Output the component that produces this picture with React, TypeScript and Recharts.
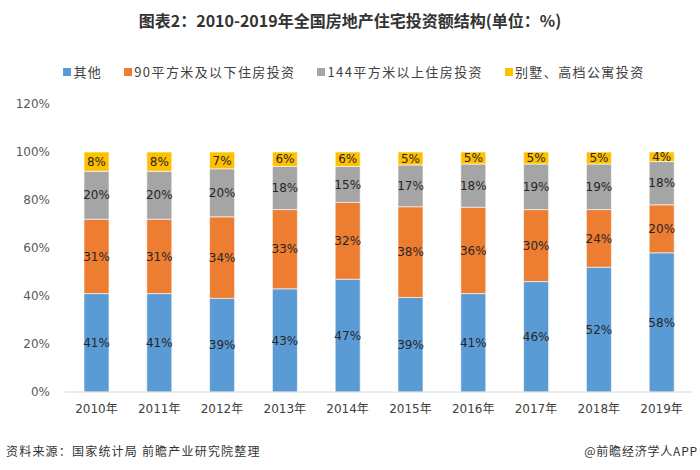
import { BarChart, Bar, XAxis, YAxis, LabelList } from 'recharts'

const years = ['2010年', '2011年', '2012年', '2013年', '2014年', '2015年', '2016年', '2017年', '2018年', '2019年']
const other = [41, 41, 39, 43, 47, 39.4, 41, 46, 52, 58]
const under90 = [31, 31, 34, 33, 32, 37.8, 36, 30, 24, 20]
const over144 = [20, 20, 20, 18, 15, 17.4, 18, 19, 19, 18]
const villa = [8, 8, 7, 6, 6, 5.4, 5, 5, 5, 4]
const yTicks = [0, 20, 40, 60, 80, 100, 120]

const SERIES = [
    { key: 'other', name: '其他', color: '#5B9BD5' },
    { key: 'under90', name: '90平方米及以下住房投资', color: '#ED7D31' },
    { key: 'over144', name: '144平方米以上住房投资', color: '#A5A5A5' },
    { key: 'villa', name: '别墅、高档公寓投资', color: '#FFC000' },
]

const data = years.map((year, i) => ({
    year,
    other: other[i],
    under90: under90[i],
    over144: over144[i],
    villa: villa[i],
}))

const FONT = '"DejaVu Sans", "Noto Sans CJK SC", sans-serif'
const CJK = '"Noto Sans CJK SC", sans-serif'

export default function App() {
    return (
        <div style={{ position: 'absolute', left: 0, top: 0, width: 700, height: 470, background: '#fff', fontFamily: CJK }}>
            <div style={{ position: 'absolute', top: 8, left: 0, width: 700, textAlign: 'center', fontSize: 16, fontWeight: 'bold', color: '#333' }}>
                图表2：2010-2019年全国房地产住宅投资额结构(单位：%)
            </div>
            <div style={{ position: 'absolute', top: 62, left: 4, width: 700, display: 'flex', justifyContent: 'center', gap: 22, fontSize: 13, letterSpacing: 1.4, color: '#404040' }}>
                {SERIES.map((s) => (
                    <div key={s.key} style={{ display: 'flex', alignItems: 'center' }}>
                        <span style={{ display: 'inline-block', width: 8, height: 8, background: s.color, marginRight: 2 }} />
                        {s.name}
                    </div>
                ))}
            </div>
            <div style={{ position: 'absolute', left: 0, top: 0 }}>
                <BarChart
                    width={700}
                    height={470}
                    data={data}
                    margin={{ top: 104, right: 7, bottom: 58, left: 5 }}
                >
                    <XAxis
                        dataKey="year"
                        axisLine={{ stroke: '#D9D9D9' }}
                        tickLine={false}
                        tickMargin={6}
                        tick={{ fontSize: 12, fill: '#404040', fontFamily: FONT }}
                        height={20}
                    />
                    <YAxis
                        domain={[0, 120]}
                        ticks={yTicks}
                        tickFormatter={(v: number) => `${v}%`}
                        axisLine={false}
                        tickLine={false}
                        tickMargin={9}
                        tick={{ fontSize: 12, fill: '#595959', fontFamily: FONT }}
                        width={60}
                    />
                    {SERIES.map((s) => (
                        <Bar
                            key={s.key}
                            dataKey={s.key}
                            stackId="a"
                            fill={s.color}
                            stroke="#fff"
                            strokeWidth={0.6}
                            barSize={25}
                            isAnimationActive={false}
                        >
                            <LabelList
                                dataKey={s.key}
                                position="center"
                                formatter={(v: number) => `${Math.round(v)}%`}
                                style={{ fontSize: 12, fill: '#262626', fontFamily: FONT }}
                            />
                        </Bar>
                    ))}
                </BarChart>
            </div>
            <div style={{ position: 'absolute', top: 442, left: 6, fontSize: 12, letterSpacing: 1.2, color: '#333' }}>
                资料来源：国家统计局 前瞻产业研究院整理
            </div>
            <div style={{ position: 'absolute', top: 442, right: 2, fontSize: 12, letterSpacing: 0.8, color: '#333' }}>
                @前瞻经济学人APP
            </div>
        </div>
    )
}
